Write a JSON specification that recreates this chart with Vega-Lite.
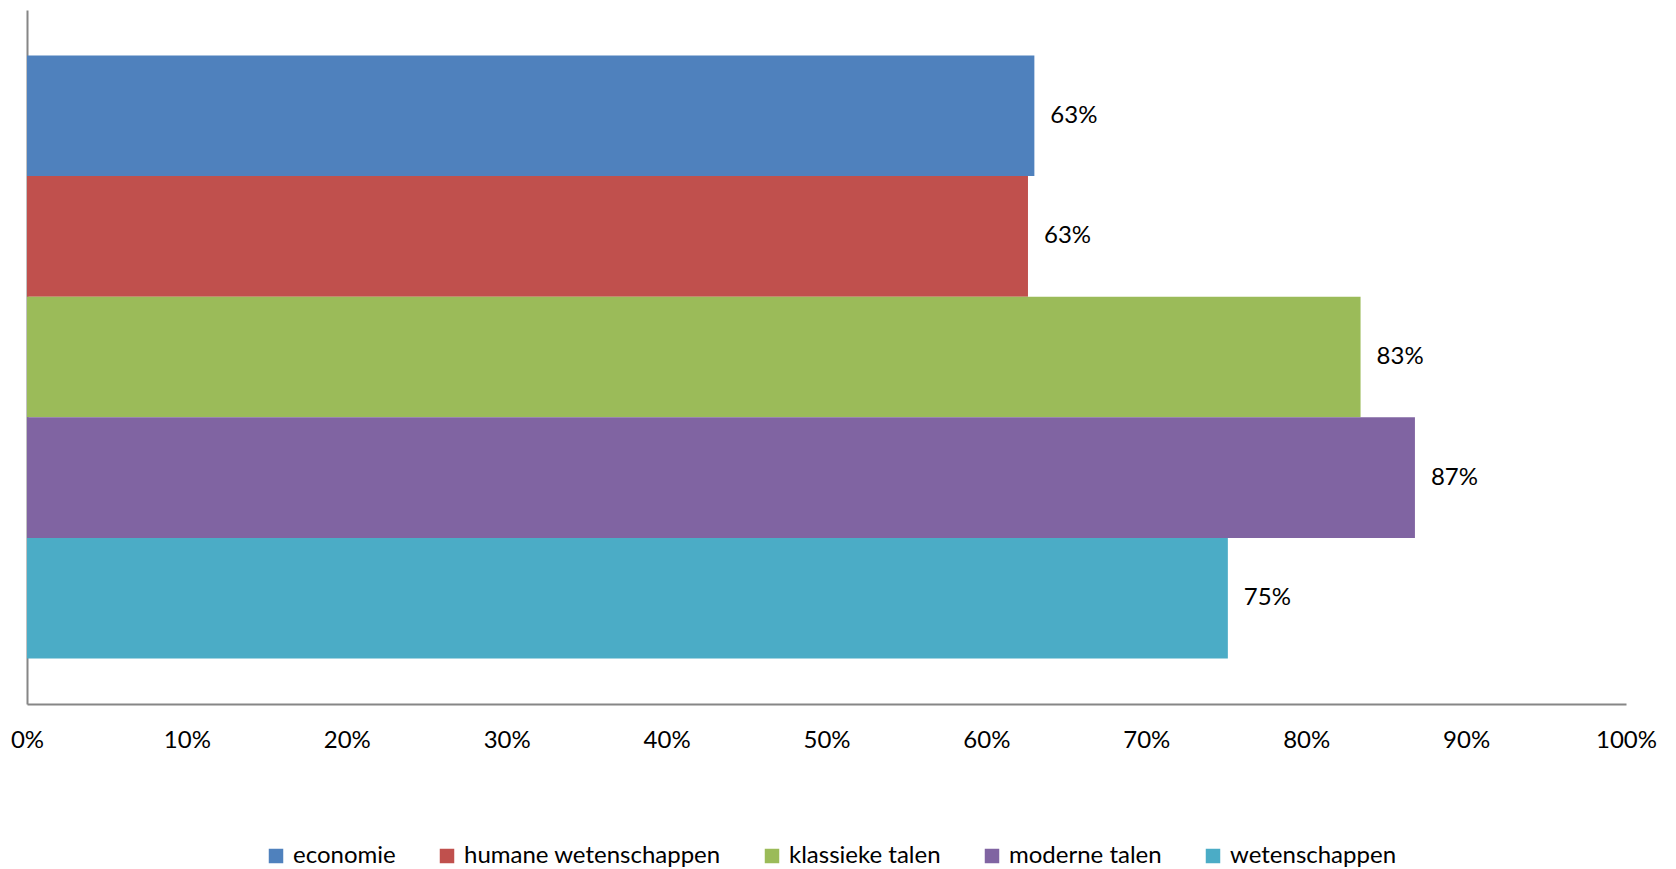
{
  "$schema": "https://vega.github.io/schema/vega-lite/v6.json",
  "autosize": "none",
  "width": 1599,
  "height": 694,
  "padding": {"left": 27, "top": 10, "right": 50, "bottom": 165},
  "background": "white",
  "config": {
    "view": {"stroke": null},
    "font": "Lato",
    "axis": {"grid": false}
  },
  "data": {
    "values": [
      {"vak": "economie", "waarde": 0.630},
      {"vak": "humane wetenschappen", "waarde": 0.626},
      {"vak": "klassieke talen", "waarde": 0.834},
      {"vak": "moderne talen", "waarde": 0.868},
      {"vak": "wetenschappen", "waarde": 0.751}
    ]
  },
  "encoding": {
    "y": {
      "field": "vak",
      "type": "nominal",
      "sort": ["economie", "humane wetenschappen", "klassieke talen", "moderne talen", "wetenschappen"],
      "scale": {"paddingInner": 0, "paddingOuter": 0.377},
      "axis": {"title": null, "labels": false, "ticks": false, "domainColor": "#868686", "domainWidth": 2}
    },
    "x": {
      "field": "waarde",
      "type": "quantitative",
      "scale": {"domain": [0, 1], "nice": false},
      "axis": {
        "title": null,
        "format": ".0%",
        "values": [0, 0.1, 0.2, 0.3, 0.4, 0.5, 0.6, 0.7, 0.8, 0.9, 1],
        "ticks": false,
        "domainColor": "#868686",
        "domainWidth": 2,
        "labelFontSize": 24,
        "labelColor": "#000000",
        "labelPadding": 24,
        "labelFont": "Lato",
        "labelFlush": false,
        "labelBound": false,
        "labelOverlap": false
      }
    }
  },
  "layer": [
    {
      "mark": {"type": "bar"},
      "encoding": {
        "color": {
          "field": "vak",
          "type": "nominal",
          "sort": ["economie", "humane wetenschappen", "klassieke talen", "moderne talen", "wetenschappen"],
          "scale": {"range": ["#4F81BD", "#C0504D", "#9BBB59", "#8064A2", "#4BACC6"]},
          "legend": {
            "title": null,
            "orient": "none",
            "direction": "horizontal",
            "legendX": 237,
            "legendY": 834,
            "symbolType": "square",
            "symbolSize": 210,
            "symbolStrokeWidth": 0,
            "symbolOpacity": 1,
            "labelFontSize": 24,
            "labelColor": "#000000",
            "labelFont": "Lato",
            "labelOffset": 5,
            "columnPadding": 39,
            "labelLimit": 400
          }
        }
      }
    },
    {
      "mark": {"type": "text", "align": "left", "baseline": "middle", "dx": 16, "fontSize": 24, "color": "#000000", "font": "Lato"},
      "encoding": {
        "text": {"field": "waarde", "type": "quantitative", "format": ".0%"}
      }
    }
  ]
}
